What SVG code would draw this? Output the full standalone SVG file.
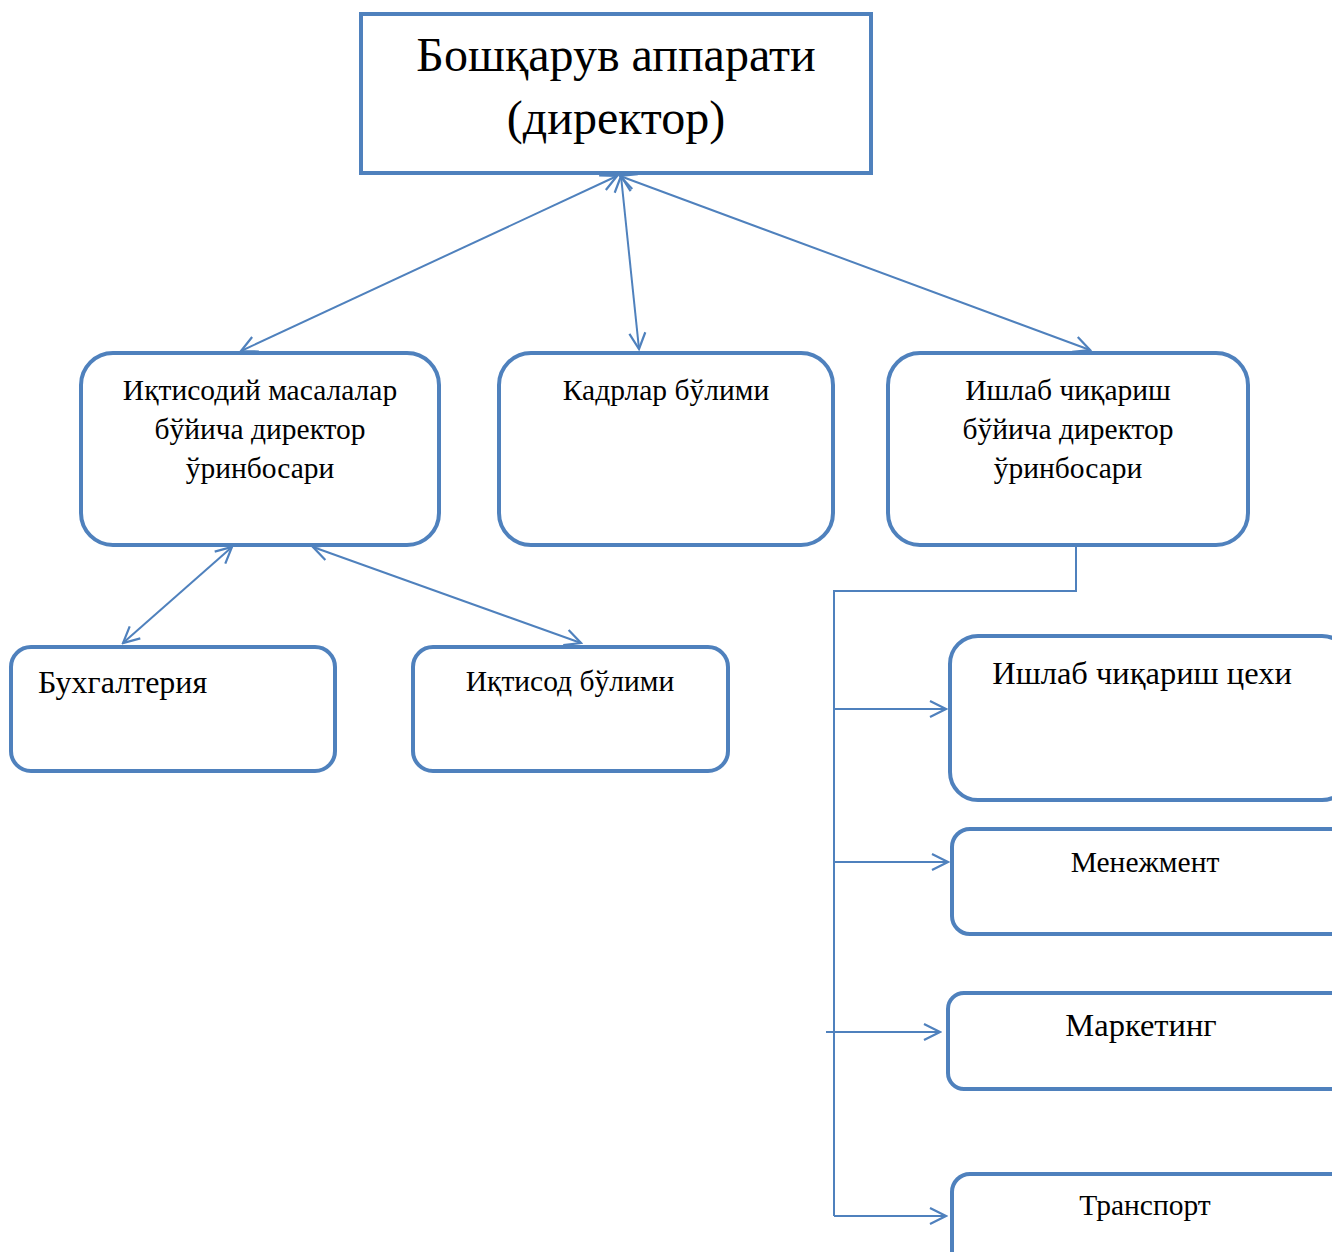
<svg xmlns="http://www.w3.org/2000/svg" width="1332" height="1252" viewBox="0 0 1332 1252">
<defs>
<style>
.box{fill:#fff;stroke:#4F81BD;stroke-width:4}
.ln{fill:none;stroke:#4F81BD;stroke-width:2}
text{font-family:"Liberation Serif","Times New Roman",serif;fill:#000;text-anchor:middle}
.t{font-size:29.5px}
.tl{font-size:32.5px}
</style>
<marker id="ah" viewBox="0 0 20 20" refX="18" refY="10" markerWidth="20" markerHeight="20" markerUnits="userSpaceOnUse" orient="auto-start-reverse">
<path d="M2,2 L18,10 L2,18" fill="none" stroke="#4F81BD" stroke-width="2.2"/>
</marker>
</defs>
<rect width="1332" height="1252" fill="#fff"/>
<g id="connectors">
<line class="ln" x1="241" y1="351" x2="617" y2="176" marker-start="url(#ah)" marker-end="url(#ah)"/>
<line class="ln" x1="621" y1="176" x2="639" y2="349" marker-start="url(#ah)" marker-end="url(#ah)"/>
<line class="ln" x1="620" y1="176" x2="1090" y2="350" marker-start="url(#ah)" marker-end="url(#ah)"/>
<line class="ln" x1="232" y1="547" x2="123" y2="643" marker-start="url(#ah)" marker-end="url(#ah)"/>
<line class="ln" x1="313" y1="547" x2="581" y2="643" marker-start="url(#ah)" marker-end="url(#ah)"/>
<polyline class="ln" points="1076,546 1076,591 834,591 834,1216"/>
<line class="ln" x1="834" y1="709" x2="946" y2="709" marker-end="url(#ah)"/>
<line class="ln" x1="834" y1="862" x2="948" y2="862" marker-end="url(#ah)"/>
<line class="ln" x1="826" y1="1032" x2="940" y2="1032" marker-end="url(#ah)"/>
<line class="ln" x1="834" y1="1216" x2="946" y2="1216" marker-end="url(#ah)"/>
</g>
<g id="director">
<rect x="361" y="14" width="510" height="159" fill="#fff" stroke="#4F81BD" stroke-width="4"/>
<text x="616" y="71" font-size="48">Бошқарув аппарати</text>
<text x="616" y="134" font-size="48">(директор)</text>
</g>
<g id="econ-deputy">
<rect class="box" x="81" y="353" width="358" height="192" rx="32"/>
<text class="t" x="260" y="400">Иқтисодий масалалар</text>
<text class="t" x="260" y="439">бўйича директор</text>
<text class="t" x="260" y="478">ўринбосари</text>
</g>
<g id="hr">
<rect class="box" x="499" y="353" width="334" height="192" rx="32"/>
<text class="t" x="666" y="400">Кадрлар бўлими</text>
</g>
<g id="prod-deputy">
<rect class="box" x="888" y="353" width="360" height="192" rx="32"/>
<text class="t" x="1068" y="400">Ишлаб чиқариш</text>
<text class="t" x="1068" y="439">бўйича директор</text>
<text class="t" x="1068" y="478">ўринбосари</text>
</g>
<g id="accounting">
<rect class="box" x="11" y="647" width="324" height="124" rx="20"/>
<text x="38" y="693" font-size="32" style="text-anchor:start">Бухгалтерия</text>
</g>
<g id="econ-dept">
<rect class="box" x="413" y="647" width="315" height="124" rx="20"/>
<text class="t" x="570" y="691">Иқтисод бўлими</text>
</g>
<g id="workshop">
<rect class="box" x="950" y="636" width="400" height="164" rx="28"/>
<text class="tl" x="1142" y="684">Ишлаб чиқариш цехи</text>
</g>
<g id="management">
<rect class="box" x="952" y="829" width="400" height="105" rx="18"/>
<text class="t" x="1145" y="872">Менежмент</text>
</g>
<g id="marketing">
<rect class="box" x="948" y="993" width="400" height="96" rx="16"/>
<text class="tl" x="1141" y="1036">Маркетинг</text>
</g>
<g id="transport">
<rect class="box" x="952" y="1174" width="400" height="120" rx="18"/>
<text class="t" x="1145" y="1215">Транспорт</text>
</g>
</svg>
